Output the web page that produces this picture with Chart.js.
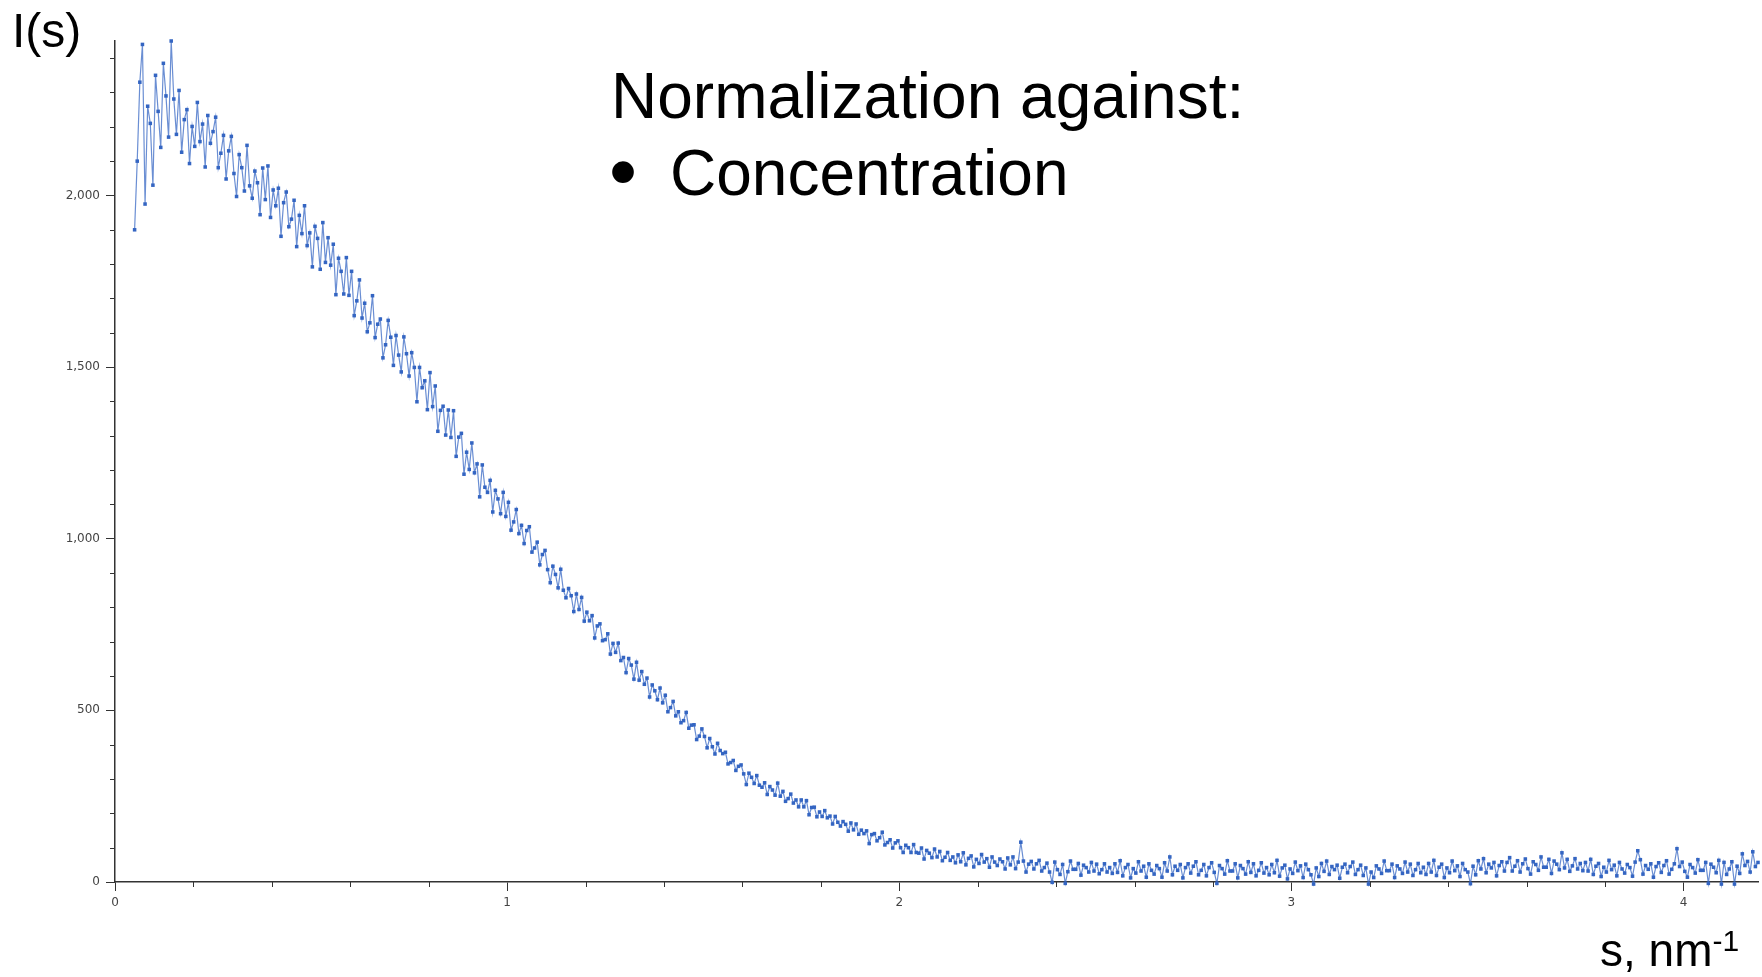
<!DOCTYPE html>
<html>
<head>
<meta charset="utf-8">
<title>I(s) vs s</title>
<script src="https://cdn.jsdelivr.net/npm/chart.js@4.4.1/dist/chart.umd.min.js"></script>
<style>
  html, body { margin: 0; padding: 0; background: #fff; overflow: hidden; }
  #wrap { position: relative; width: 1762px; height: 977px; }
  #saxsChart { position: absolute; left: 0; top: 0; }
  .slide-text {
    position: absolute;
    font-family: "Liberation Sans", Arial, sans-serif;
    color: #000;
    line-height: 1;
    white-space: nowrap;
  }
</style>
</head>
<body>
<div id="wrap">
  <canvas id="saxsChart" width="1762" height="977"></canvas>
  <div class="slide-text" style="left:12px; top:7px; font-size:48px;">I(s)</div>
  <div class="slide-text" style="left:611px; top:64px; font-size:64px;">Normalization against:</div>
  <div class="slide-text" style="left:609px; top:132px; font-size:80px;">•</div>
  <div class="slide-text" style="left:670px; top:141px; font-size:64px;">Concentration</div>
  <div class="slide-text" style="left:1600px; top:927px; font-size:46px;">s, nm<span style="position:relative; top:-15px; font-size:30px;">-1</span></div>
</div>
<script>
// s grid: 15 points per 0.1 nm^-1, starting at 0.05
const sStart = 0.05;
const sStep = 1 / 150;

// I(s), in chunks of s
const intensityA = [ // s 0.050 - 1.043
  1900, 2100, 2330, 2440, 1975, 2260, 2210, 2030, 2350, 2245, 2140, 2385, 2290, 2170, 2450,
  2281, 2178, 2306, 2126, 2221, 2250, 2093, 2201, 2143, 2271, 2157, 2208, 2083, 2233, 2152,
  2186, 2228, 2081, 2123, 2175, 2048, 2130, 2172, 2064, 1997, 2119, 2081, 2013, 2146, 2028,
  1992, 2071, 2037, 1944, 2080, 1988, 2086, 1936, 2016, 1970, 2021, 1881, 1979, 2010, 1909,
  1931, 1986, 1851, 1942, 1889, 1970, 1854, 1891, 1792, 1910, 1875, 1785, 1921, 1805, 1877,
  1797, 1858, 1711, 1817, 1779, 1713, 1819, 1709, 1779, 1650, 1693, 1754, 1643, 1686, 1603,
  1629, 1708, 1586, 1625, 1640, 1527, 1565, 1636, 1587, 1505, 1592, 1535, 1486, 1588, 1539,
  1474, 1542, 1499, 1399, 1499, 1440, 1460, 1376, 1484, 1385, 1445, 1313, 1374, 1386, 1302,
  1375, 1295, 1373, 1240, 1296, 1307, 1188, 1252, 1202, 1279, 1192, 1218, 1122, 1215, 1150,
  1135, 1170, 1078, 1141, 1116, 1073, 1135, 1065, 1106, 1025, 1049, 1085, 1015, 1039, 986
];
const intensityB = [ // s 1.050 - 2.043
  1024, 1035, 961, 973, 990, 924, 954, 966, 910, 872, 920, 896, 857, 911, 850,
  828, 855, 834, 788, 839, 794, 829, 760, 786, 761, 776, 711, 746, 752, 703,
  706, 723, 664, 695, 669, 696, 645, 654, 610, 651, 632, 591, 640, 588, 613,
  576, 594, 539, 574, 557, 531, 565, 522, 544, 496, 508, 526, 484, 496, 464,
  470, 494, 448, 457, 458, 415, 425, 446, 424, 391, 418, 394, 373, 404, 383,
  374, 378, 344, 348, 354, 325, 337, 341, 315, 284, 317, 305, 287, 310, 282,
  276, 289, 255, 278, 268, 253, 288, 250, 264, 235, 243, 256, 230, 239, 219,
  239, 219, 237, 196, 217, 218, 190, 204, 191, 208, 187, 192, 169, 191, 174,
  163, 176, 168, 148, 172, 152, 169, 139, 151, 141, 149, 112, 138, 141, 120,
  129, 145, 108, 115, 123, 99, 114, 120, 100, 86, 107, 100, 86, 109, 86
];
const intensityC = [ // s 2.050 - 3.043
  84, 99, 67, 92, 84, 71, 96, 73, 89, 62, 72, 86, 63, 73, 56,
  79, 59, 85, 50, 69, 76, 44, 66, 54, 80, 58, 68, 43, 73, 58,
  48, 67, 59, 38, 70, 50, 73, 39, 58, 116, 61, 29, 52, 60, 38,
  53, 63, 32, 42, 55, 29, -1, 58, 36, 22, 51, -4, 30, 61, 37,
  37, 54, 20, 49, 42, 29, 57, 32, 52, 24, 36, 53, 29, 42, 25,
  53, 28, 62, 18, 42, 51, 12, 39, 26, 59, 32, 46, 14, 53, 34,
  23, 48, 39, 14, 56, 32, 73, 21, 46, 34, 51, 12, 42, 53, 26,
  46, 59, 21, 34, 51, 18, 42, 56, 28, -4, 48, 39, 23, 62, 32,
  32, 53, 12, 48, 39, 23, 59, 28, 53, 18, 34, 56, 26, 42, 21,
  51, 27, 63, 17, 41, 49, 9, 38, 25, 58, 33, 47, 13, 52, 36
];
const intensityD = [ // s 3.050 - 4.190
  21, -6, 41, 16, 54, 31, 61, 22, 45, 36, 49, 11, 43, 52, 27,
  45, 58, 22, 36, 49, 19, 41, -6, 29, 13, 47, 38, 25, 61, 33,
  33, 52, 13, 47, 38, 25, 58, 29, 52, 19, 36, 54, 27, 43, 22,
  54, 29, 63, 19, 43, 52, 13, 41, 27, 61, 33, 47, 16, 54, 36,
  29, -5, 46, 21, 62, 38, 68, 27, 52, 41, 57, 18, 48, 59, 32,
  57, 71, 32, 46, 62, 29, 53, 67, 39, 23, 59, 51, 34, 73, 43,
  43, 66, 25, 61, 52, 36, 85, 41, 66, 31, 47, 68, 38, 54, 33,
  57, 32, 66, 22, 46, 54, 16, 43, 29, 63, 36, 49, 18, 57, 38,
  26, 51, 42, 17, 58, 91, 65, 23, 48, 37, 53, 14, 45, 56, 28,
  48, 62, 23, 37, 53, 97, 45, 58, 31, 14, 51, 42, 26, 65, 34,
  34, 57, -4, 52, 43, 27, 63, -6, 57, 22, 38, 59, -6, 46, 25,
  82, 48, 60, 29, 88, 45, 57
];

// axis ticks
const xMajorTicks = [0, 1, 2, 3, 4];
const xMinorTicks = [0.2, 0.4, 0.6, 0.8, 1.2, 1.4, 1.6, 1.8, 2.2, 2.4, 2.6, 2.8, 3.2, 3.4, 3.6, 3.8];
const yMajorTicks = [0, 500, 1000, 1500, 2000];
const yMinorTicks = [100, 200, 300, 400, 600, 700, 800, 900, 1100, 1200, 1300, 1400,
                     1600, 1700, 1800, 1900, 2100, 2200, 2300, 2400];

const intensity = intensityA.concat(intensityB, intensityC, intensityD);
const points = intensity.map((v, i) => ({ x: sStart + i * sStep, y: v }));

// short unlabelled ticks between the labelled ones
const minorTicks = {
  id: 'minorTicks',
  afterDraw(chart) {
    const ctx = chart.ctx;
    const xs = chart.scales.x;
    const ys = chart.scales.y;
    ctx.save();
    ctx.strokeStyle = '#333';
    ctx.lineWidth = 1;
    ctx.beginPath();
    xMinorTicks.forEach(v => {
      const px = Math.round(xs.getPixelForValue(v)) + 0.5;
      ctx.moveTo(px, ys.bottom);
      ctx.lineTo(px, ys.bottom + 5);
    });
    yMinorTicks.forEach(v => {
      const py = Math.round(ys.getPixelForValue(v)) + 0.5;
      ctx.moveTo(xs.left - 5, py);
      ctx.lineTo(xs.left, py);
    });
    ctx.stroke();
    ctx.restore();
  }
};

const tickFont = { family: '"DejaVu Sans", Verdana, sans-serif', size: 12 };

new Chart(document.getElementById('saxsChart'), {
  type: 'line',
  data: {
    datasets: [{
      data: points,
      borderColor: 'rgba(56, 104, 196, 0.75)',
      borderWidth: 1.2,
      pointStyle: 'rect',
      pointRadius: 2.5,
      pointBorderWidth: 0,
      pointBackgroundColor: '#3465c2',
      tension: 0,
      clip: false
    }]
  },
  plugins: [minorTicks],
  options: {
    responsive: false,
    animation: false,
    devicePixelRatio: 1,
    layout: { padding: { top: 41, left: 0, right: 0, bottom: 0 } },
    plugins: {
      legend: { display: false },
      tooltip: { enabled: false },
      title: { display: false }
    },
    scales: {
      x: {
        type: 'linear',
        min: 0,
        max: 4.19,
        afterBuildTicks: scale => { scale.ticks = xMajorTicks.map(v => ({ value: v })); },
        afterFit: scale => { scale.height = 95; },
        grid: { drawOnChartArea: false, tickLength: 9, tickColor: '#333', tickWidth: 1 },
        border: { color: '#333', width: 1.5 },
        ticks: { font: tickFont, color: '#444', padding: 5, maxRotation: 0 }
      },
      y: {
        min: 0,
        max: 2450,
        afterBuildTicks: scale => { scale.ticks = yMajorTicks.map(v => ({ value: v })); },
        afterFit: scale => { scale.width = 115; },
        grid: { drawOnChartArea: false, tickLength: 9, tickColor: '#333', tickWidth: 1 },
        border: { color: '#333', width: 1.5 },
        ticks: {
          font: tickFont,
          color: '#444',
          padding: 6,
          callback: v => v.toLocaleString('en-US')
        }
      }
    }
  }
});
</script>
</body>
</html>
